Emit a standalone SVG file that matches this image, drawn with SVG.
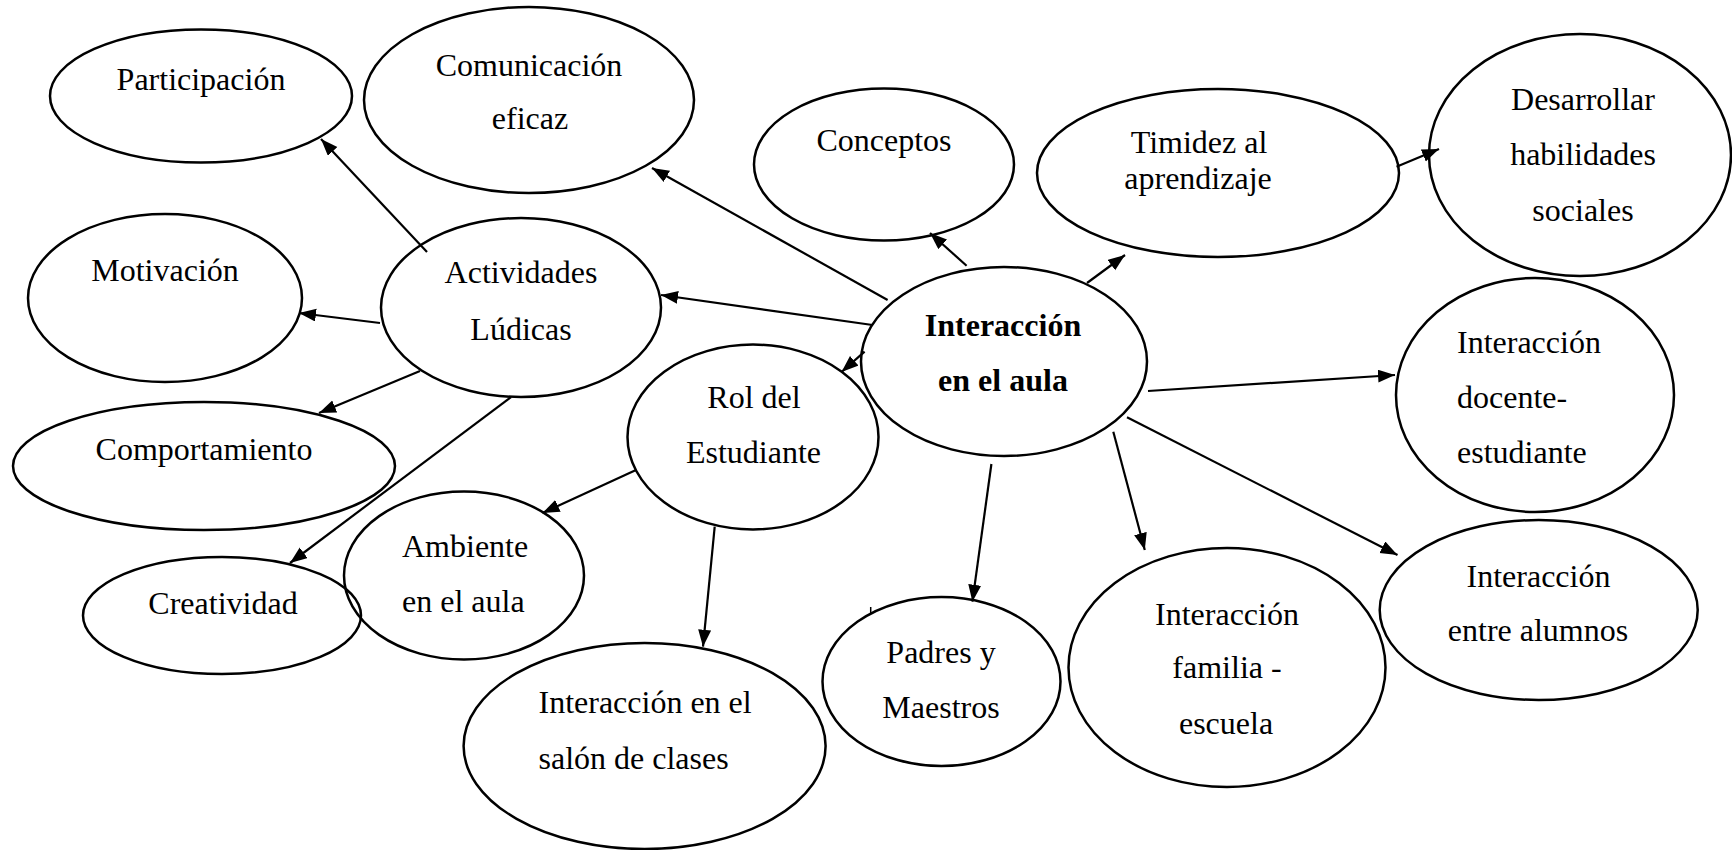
<svg xmlns="http://www.w3.org/2000/svg" width="1732" height="850" viewBox="0 0 1732 850">
<style>
  .n ellipse { fill: none; stroke: #000; stroke-width: 2.5; }
  .n text { font-family: "Liberation Serif", "Times New Roman", serif; font-size: 32px; fill: #000; }
  .c { text-anchor: middle; }
  .b { font-weight: bold; }
  #connectors line { stroke: #000; stroke-width: 2.2; marker-end: url(#ah); }
</style>
<defs>
  <marker id="ah" markerUnits="userSpaceOnUse" markerWidth="18" markerHeight="14" refX="17" refY="6.5" orient="auto">
    <path d="M0,0 L17,6.5 L0,13 z" fill="#000"/>
  </marker>
</defs>
<rect width="1732" height="850" fill="#fff"/>

<g id="participacion" class="n">
  <ellipse cx="201" cy="96" rx="151" ry="66.5"/>
  <text class="c" x="201" y="90">Participación</text>
</g>
<g id="comunicacion" class="n">
  <ellipse cx="529" cy="100" rx="165" ry="93"/>
  <text class="c" x="529" y="76">Comunicación</text>
  <text class="c" x="530" y="129">eficaz</text>
</g>
<g id="motivacion" class="n">
  <ellipse cx="165" cy="298" rx="137" ry="84"/>
  <text class="c" x="165" y="281">Motivación</text>
</g>
<g id="actividades" class="n">
  <ellipse cx="521" cy="307.5" rx="140" ry="89.5"/>
  <text class="c" x="521" y="283">Actividades</text>
  <text class="c" x="521" y="340">Lúdicas</text>
</g>
<g id="conceptos" class="n">
  <ellipse cx="884" cy="164.5" rx="130" ry="76"/>
  <text class="c" x="884" y="151">Conceptos</text>
</g>
<g id="timidez" class="n">
  <ellipse cx="1218" cy="173" rx="181" ry="84"/>
  <text class="c" x="1199" y="153">Timidez al</text>
  <text class="c" x="1198" y="189">aprendizaje</text>
</g>
<g id="desarrollar" class="n">
  <ellipse cx="1580" cy="155" rx="151" ry="121"/>
  <text class="c" x="1583" y="110">Desarrollar</text>
  <text class="c" x="1583" y="165">habilidades</text>
  <text class="c" x="1583" y="221">sociales</text>
</g>
<g id="interaccion-aula" class="n">
  <ellipse cx="1004" cy="361.5" rx="143" ry="94.5"/>
  <text class="c b" x="1003" y="336">Interacción</text>
  <text class="c b" x="1003" y="391">en el aula</text>
</g>
<g id="docente-estudiante" class="n">
  <ellipse cx="1535" cy="395" rx="139" ry="117"/>
  <text x="1457" y="353">Interacción</text>
  <text x="1457" y="408">docente-</text>
  <text x="1457" y="463">estudiante</text>
</g>
<g id="comportamiento" class="n">
  <ellipse cx="204" cy="466" rx="191" ry="64"/>
  <text class="c" x="204" y="460">Comportamiento</text>
</g>
<g id="creatividad" class="n">
  <ellipse cx="222" cy="615.5" rx="139" ry="58.5"/>
  <text class="c" x="223" y="614">Creatividad</text>
</g>
<g id="ambiente" class="n">
  <ellipse cx="464" cy="575.5" rx="120" ry="84"/>
  <text x="402" y="557">Ambiente</text>
  <text x="402" y="612">en el aula</text>
</g>
<g id="rol-estudiante" class="n">
  <ellipse cx="753" cy="437" rx="125.5" ry="92.4"/>
  <text class="c" x="754" y="408">Rol del</text>
  <text class="c" x="753.5" y="463">Estudiante</text>
</g>
<g id="salon-clases" class="n">
  <ellipse cx="644.6" cy="746" rx="181" ry="103"/>
  <text x="538.5" y="713">Interacción en el</text>
  <text x="538.5" y="769">salón de clases</text>
</g>
<g id="padres-maestros" class="n">
  <ellipse cx="941.5" cy="681.5" rx="119" ry="84.5"/>
  <text class="c" x="941" y="663">Padres y</text>
  <text class="c" x="941" y="718">Maestros</text>
</g>
<g id="familia-escuela" class="n">
  <ellipse cx="1227" cy="667.5" rx="158.5" ry="119.5"/>
  <text class="c" x="1227" y="625">Interacción</text>
  <text class="c" x="1227" y="678">familia -</text>
  <text class="c" x="1226" y="734">escuela</text>
</g>
<g id="entre-alumnos" class="n">
  <ellipse cx="1538.7" cy="610" rx="159" ry="90"/>
  <text class="c" x="1538.5" y="587">Interacción</text>
  <text class="c" x="1538" y="641">entre alumnos</text>
</g>

<g id="connectors">
  <line x1="427" y1="252" x2="321" y2="139"/>
  <line x1="380" y1="323" x2="299" y2="313"/>
  <line x1="420" y1="371" x2="319" y2="413"/>
  <line x1="511" y1="397" x2="290" y2="563"/>
  <line x1="887.6" y1="300" x2="652" y2="168"/>
  <line x1="872.5" y1="325" x2="661" y2="295"/>
  <line x1="966.6" y1="265.7" x2="930" y2="233"/>
  <line x1="1087" y1="283" x2="1125" y2="255"/>
  <line x1="1396.5" y1="166.7" x2="1439" y2="149"/>
  <line x1="1148" y1="391" x2="1395" y2="375"/>
  <line x1="864.6" y1="351.7" x2="841.5" y2="372"/>
  <line x1="636" y1="470" x2="542.5" y2="513"/>
  <line x1="714.7" y1="526.7" x2="703" y2="646.7"/>
  <line x1="991.4" y1="464" x2="972.4" y2="601.7"/>
  <line x1="1113.3" y1="431.7" x2="1144.8" y2="550"/>
  <line x1="1127" y1="417.3" x2="1397.5" y2="555"/>
</g>
<line x1="870.7" y1="607" x2="870.7" y2="613" stroke="#000" stroke-width="1.5"/>
</svg>
